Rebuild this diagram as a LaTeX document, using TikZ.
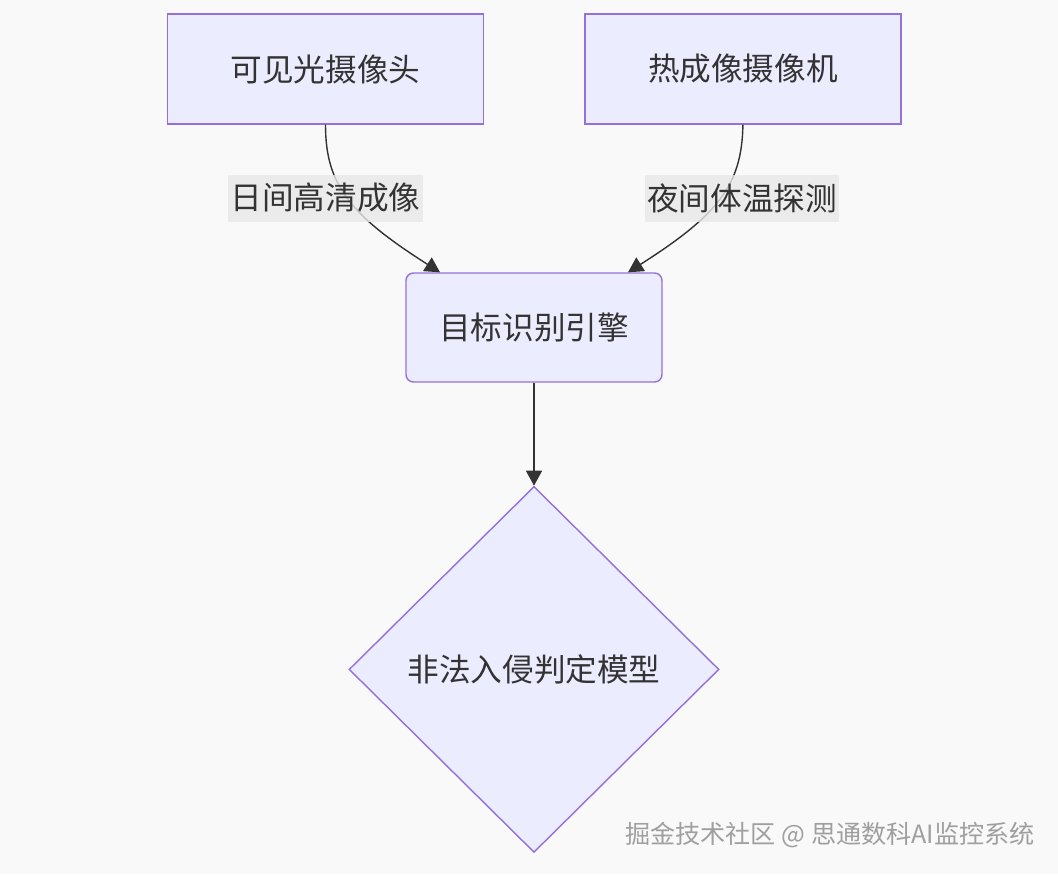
\documentclass[tikz,border=0pt]{standalone}
\usepackage{fontspec}
\setmainfont{Noto Sans CJK SC}
\usepackage{tikz}
\usetikzlibrary{arrows.meta,positioning,shapes.geometric}
\definecolor{boxfill}{HTML}{ECECFF}
\definecolor{boxline}{HTML}{9370DB}
\definecolor{inktext}{HTML}{333333}
\definecolor{lblfill}{HTML}{E8E8E8}
\definecolor{pagebg}{HTML}{F9F9F9}
\tikzset{
    %Define standard arrow tip
    >={Triangle[length=0.3cm,width=0.32cm]},
    %Define style for boxes
    kasten/.style={
           rectangle,
           draw=boxline, line width=0.8pt,
           fill=boxfill,
           text=inktext,
           minimum width=6.32cm,
           minimum height=2.2cm,
           text centered},
    kastenrund/.style={
           kasten,
           rounded corners=0.15cm,
           minimum width=5.12cm,
           minimum height=2.18cm},
    raute/.style={
           diamond,
           draw=boxline, line width=0.8pt,
           fill=boxfill,
           text=inktext,
           inner sep=0pt,
           minimum width=7.4cm,
           minimum height=7.32cm},
    % Define label style
    etikett/.style={
           fill=lblfill, fill opacity=0.8, text opacity=1,
           text=inktext,
           inner xsep=0.05cm,
           minimum height=0.94cm},
    % Define arrow style
    pfeil/.style={
           ->,
           draw=inktext, line width=0.8pt}
}
\begin{document}
\begin{tikzpicture}[font=\fontsize{18}{22}\selectfont]
\fill[pagebg] (0,0) rectangle (21.16,-17.48);
\useasboundingbox (0,0) rectangle (21.16,-17.48);
 %nodes
\node[kasten](kamera) at (6.51,-1.38){可见光摄像头};
\node[kasten, right = 2.0cm of kamera](waerme){热成像摄像机};
\node[kastenrund](engine) at (10.68,-6.55){目标识别引擎};
\node[raute, below = 2.06cm of engine](modell){非法入侵判定模型};
 %edges
\draw[pfeil] (kamera.south) .. controls (6.51,-3.7) and (7.0,-4.3) .. ([xshift=-1.88cm]engine.north);
\draw[pfeil] (waerme.south) .. controls (14.84,-3.7) and (14.36,-4.3) .. ([xshift=1.88cm]engine.north);
\draw[pfeil] (engine.south) -- (modell.north);
 %labels
\node[etikett](tag) at (6.51,-3.96){日间高清成像};
\node[etikett](nacht) at (14.84,-3.96){夜间体温探测};
\node[text=gray!75, font=\fontsize{14.3}{16}\selectfont](marke) at (16.6,-16.7){掘金技术社区 @ 思通数科AI监控系统};
\end{tikzpicture}
\end{document}
